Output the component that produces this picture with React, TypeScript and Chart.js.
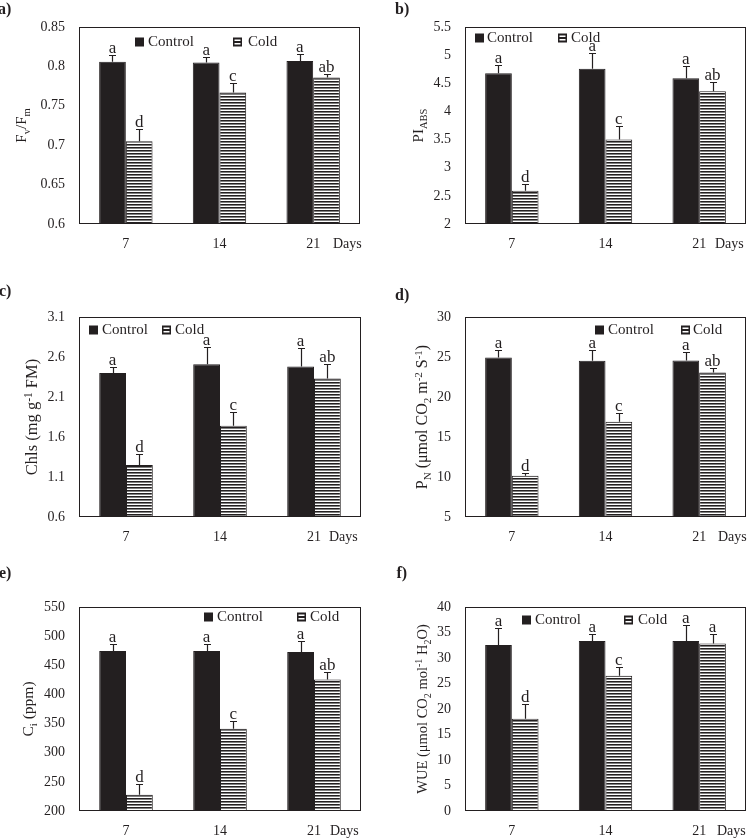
import React, { useEffect, useRef } from 'react';
import { Chart, registerables } from 'chart.js';

Chart.register(...registerables);

const FONT = "'Liberation Serif', 'Times New Roman', serif";
const INK = '#231f20';

const days = ['7', '14', '21'];
const seriesNames = ['Control', 'Cold'];

// a) Fv/Fm
const fvfmTicks = [0.6, 0.65, 0.7, 0.75, 0.8, 0.85];
const fvfmControl = [0.806, 0.805, 0.807];
const fvfmControlErr = [0.009, 0.007, 0.009];
const fvfmCold = [0.705, 0.767, 0.786];
const fvfmColdErr = [0.016, 0.012, 0.004];
const fvfmControlLetters = ['a', 'a', 'a'];
const fvfmColdLetters = ['d', 'c', 'ab'];

// b) PI_ABS
const piTicks = [2, 2.5, 3, 3.5, 4, 4.5, 5, 5.5];
const piControl = [4.68, 4.76, 4.59];
const piControlErr = [0.15, 0.27, 0.22];
const piCold = [2.59, 3.5, 4.36];
const piColdErr = [0.12, 0.24, 0.16];
const piControlLetters = ['a', 'a', 'a'];
const piColdLetters = ['d', 'c', 'ab'];

// c) Chls
const chlTicks = [0.6, 1.1, 1.6, 2.1, 2.6, 3.1];
const chlControl = [2.4, 2.51, 2.48];
const chlControlErr = [0.08, 0.21, 0.23];
const chlCold = [1.25, 1.74, 2.33];
const chlColdErr = [0.14, 0.17, 0.18];
const chlControlLetters = ['a', 'a', 'a'];
const chlColdLetters = ['d', 'c', 'ab'];

// d) P_N
const pnTicks = [5, 10, 15, 20, 25, 30];
const pnControl = [24.93, 24.52, 24.56];
const pnControlErr = [0.92, 1.4, 1.04];
const pnCold = [10.15, 16.92, 23.06];
const pnColdErr = [0.4, 1.08, 0.62];
const pnControlLetters = ['a', 'a', 'a'];
const pnColdLetters = ['d', 'c', 'ab'];

// e) Ci
const ciTicks = [200, 250, 300, 350, 400, 450, 500, 550];
const ciControl = [474.5, 474.5, 473];
const ciControlErr = [12, 12.5, 19];
const ciCold = [228, 341, 425.5];
const ciColdErr = [18.5, 13, 13.5];
const ciControlLetters = ['a', 'a', 'a'];
const ciColdLetters = ['d', 'c', 'ab'];

// f) WUE
const wueTicks = [0, 5, 10, 15, 20, 25, 30, 35, 40];
const wueControl = [32.56, 33.34, 33.34];
const wueControlErr = [3.3, 1.4, 3.1];
const wueCold = [18.08, 26.5, 32.82];
const wueColdErr = [2.9, 1.8, 1.9];
const wueControlLetters = ['a', 'a', 'a'];
const wueColdLetters = ['d', 'c', 'a'];

type Seg = { t: string; s?: 'sub' | 'sup' };

interface PanelCfg {
  tag: string;
  left: number; top: number; width: number; height: number;
  yWidth: number; padTop: number; padRight: number; padBottom: number; xHeight: number;
  ticks: number[];
  control: number[]; controlErr: number[]; cold: number[]; coldErr: number[];
  controlLetters: string[]; coldLetters: string[];
  title: Seg[]; titleX: number; titleSize: number;
  legend: number[]; // controlBoxX, controlTextX, coldBoxX, coldTextX, centerY
  daysX: number; tagX: number; tagY: number;
}

const panels: PanelCfg[] = [
  {
    tag: 'a)', left: 0, top: 0, width: 375, height: 280,
    yWidth: 79, padTop: 27, padRight: 15, padBottom: 26, xHeight: 30,
    ticks: fvfmTicks, control: fvfmControl, controlErr: fvfmControlErr, cold: fvfmCold, coldErr: fvfmColdErr,
    controlLetters: fvfmControlLetters, coldLetters: fvfmColdLetters,
    title: [{ t: 'F' }, { t: 'v', s: 'sub' }, { t: '/F' }, { t: 'm', s: 'sub' }], titleX: 21, titleSize: 15,
    legend: [135, 148, 233, 248, 42], daysX: 333, tagX: -2, tagY: 13.5,
  },
  {
    tag: 'b)', left: 375, top: 0, width: 374, height: 280,
    yWidth: 90, padTop: 27, padRight: 3, padBottom: 26, xHeight: 30,
    ticks: piTicks, control: piControl, controlErr: piControlErr, cold: piCold, coldErr: piColdErr,
    controlLetters: piControlLetters, coldLetters: piColdLetters,
    title: [{ t: 'PI' }, { t: 'ABS', s: 'sub' }], titleX: 43, titleSize: 15,
    legend: [100, 112, 183, 196, 38], daysX: 340, tagX: 20, tagY: 13.5,
  },
  {
    tag: 'c)', left: 0, top: 280, width: 375, height: 275,
    yWidth: 79, padTop: 37, padRight: 14, padBottom: 8, xHeight: 30,
    ticks: chlTicks, control: chlControl, controlErr: chlControlErr, cold: chlCold, coldErr: chlColdErr,
    controlLetters: chlControlLetters, coldLetters: chlColdLetters,
    title: [{ t: 'Chls (mg g' }, { t: '-1', s: 'sup' }, { t: ' FM)' }], titleX: 32, titleSize: 16.5,
    legend: [89, 102, 162, 175, 50], daysX: 329, tagX: -1, tagY: 15.5,
  },
  {
    tag: 'd)', left: 375, top: 280, width: 374, height: 275,
    yWidth: 90, padTop: 37, padRight: 3, padBottom: 8, xHeight: 30,
    ticks: pnTicks, control: pnControl, controlErr: pnControlErr, cold: pnCold, coldErr: pnColdErr,
    controlLetters: pnControlLetters, coldLetters: pnColdLetters,
    title: [
      { t: 'P' }, { t: 'N', s: 'sub' }, { t: ' (μmol CO' }, { t: '2', s: 'sub' }, { t: ' m' },
      { t: '-2', s: 'sup' }, { t: ' S' }, { t: '-1', s: 'sup' }, { t: ')' },
    ],
    titleX: 47, titleSize: 16,
    legend: [220, 233, 306, 318, 50], daysX: 343, tagX: 20, tagY: 20,
  },
  {
    tag: 'e)', left: 0, top: 555, width: 375, height: 285,
    yWidth: 79, padTop: 52, padRight: 14, padBottom: 0, xHeight: 29,
    ticks: ciTicks, control: ciControl, controlErr: ciControlErr, cold: ciCold, coldErr: ciColdErr,
    controlLetters: ciControlLetters, coldLetters: ciColdLetters,
    title: [{ t: 'C' }, { t: 'i', s: 'sub' }, { t: ' (ppm)' }], titleX: 28, titleSize: 15.5,
    legend: [204, 217, 297, 310, 62], daysX: 330, tagX: -1, tagY: 23,
  },
  {
    tag: 'f)', left: 375, top: 555, width: 374, height: 285,
    yWidth: 90, padTop: 52, padRight: 3, padBottom: 0, xHeight: 29,
    ticks: wueTicks, control: wueControl, controlErr: wueControlErr, cold: wueCold, coldErr: wueColdErr,
    controlLetters: wueControlLetters, coldLetters: wueColdLetters,
    title: [
      { t: 'WUE (μmol CO' }, { t: '2', s: 'sub' }, { t: ' mol' }, { t: '-1', s: 'sup' },
      { t: ' H' }, { t: '2', s: 'sub' }, { t: 'O)' },
    ],
    titleX: 47, titleSize: 14.5,
    legend: [147, 160, 249, 263, 65], daysX: 342, tagX: 21.5, tagY: 23,
  },
];

function makePattern(): CanvasPattern | string {
  const c = document.createElement('canvas');
  c.width = 4;
  c.height = 3;
  const g = c.getContext('2d');
  if (!g) return '#888';
  g.fillStyle = '#ffffff';
  g.fillRect(0, 0, 4, 3);
  g.fillStyle = INK;
  g.fillRect(0, 0, 4, 1);
  g.fillStyle = '#808080';
  g.fillRect(0, 1, 4, 1);
  return g.createPattern(c, 'repeat') || '#888';
}

function fmt(v: number): string {
  return String(parseFloat(Number(v).toFixed(3)));
}

function makeOverlay(cfg: PanelCfg) {
  return {
    id: 'overlay',
    afterDatasetsDraw(chart: any) {
      const ctx: CanvasRenderingContext2D = chart.ctx;
      const ys = chart.scales.y;
      const xs = chart.scales.x;
      const ca = chart.chartArea;
      ctx.save();
      const groups: [number[], number[], string[]][] = [
        [cfg.control, cfg.controlErr, cfg.controlLetters],
        [cfg.cold, cfg.coldErr, cfg.coldLetters],
      ];
      groups.forEach(([vals, errs, letters], di) => {
        const meta = chart.getDatasetMeta(di);
        meta.data.forEach((bar: any, i: number) => {
          const x = Math.round(bar.x) + 0.5;
          const yBar = ys.getPixelForValue(vals[i]);
          const yTop = Math.round(ys.getPixelForValue(vals[i] + errs[i])) + 0.5;
          ctx.strokeStyle = INK;
          ctx.lineWidth = 1.2;
          ctx.beginPath();
          ctx.moveTo(x, yBar);
          ctx.lineTo(x, yTop);
          ctx.moveTo(x - 3.5, yTop);
          ctx.lineTo(x + 3.5, yTop);
          ctx.stroke();
          ctx.fillStyle = INK;
          ctx.font = `17px ${FONT}`;
          ctx.textAlign = 'center';
          ctx.textBaseline = 'alphabetic';
          ctx.fillText(letters[i], bar.x, yTop - 2.5);
        });
      });

      // frame
      ctx.strokeStyle = INK;
      ctx.lineWidth = 1;
      ctx.strokeRect(
        Math.round(ca.left) + 0.5,
        Math.round(ca.top) + 0.5,
        Math.round(ca.right - ca.left) - 1,
        Math.round(ca.bottom - ca.top) - 1,
      );

      // legend
      const [cbx, ctxX, kbx, ktx, ly] = cfg.legend;
      const bs = 9;
      ctx.fillStyle = INK;
      ctx.fillRect(cbx, ly - bs / 2, bs, bs);
      ctx.fillRect(kbx, ly - bs / 2, bs, bs);
      ctx.fillStyle = '#ffffff';
      ctx.fillRect(kbx + 1.5, ly - 2.5, bs - 3, 1.5);
      ctx.fillRect(kbx + 1.5, ly + 1, bs - 3, 1.5);
      ctx.fillStyle = INK;
      ctx.font = `15px ${FONT}`;
      ctx.textAlign = 'left';
      ctx.textBaseline = 'middle';
      ctx.fillText(seriesNames[0], ctxX, ly + 0.5);
      ctx.fillText(seriesNames[1], ktx, ly + 0.5);

      // Days
      ctx.font = `14px ${FONT}`;
      ctx.textBaseline = 'middle';
      ctx.fillText('Days', cfg.daysX, xs.top + 12 + 8.4);

      // panel tag
      ctx.font = `bold 16px ${FONT}`;
      ctx.textBaseline = 'alphabetic';
      ctx.fillText(cfg.tag, cfg.tagX, cfg.tagY);

      // y-axis title with sub/superscripts
      const mainSize = cfg.titleSize;
      const smallSize = Math.round(cfg.titleSize * 0.7 * 2) / 2;
      let total = 0;
      const widths = cfg.title.map((s) => {
        ctx.font = `${s.s ? smallSize : mainSize}px ${FONT}`;
        const w = ctx.measureText(s.t).width;
        total += w;
        return w;
      });
      ctx.translate(cfg.titleX, (ca.top + ca.bottom) / 2);
      ctx.rotate(-Math.PI / 2);
      let px = -total / 2;
      const base = 5;
      cfg.title.forEach((s, i) => {
        ctx.font = `${s.s ? smallSize : mainSize}px ${FONT}`;
        const dy = s.s === 'sub' ? 3.5 : s.s === 'sup' ? -5.5 : 0;
        ctx.fillText(s.t, px, base + dy);
        px += widths[i];
      });
      ctx.restore();
    },
  };
}

function Panel({ cfg }: { cfg: PanelCfg }) {
  const ref = useRef<HTMLCanvasElement | null>(null);
  useEffect(() => {
    const canvas = ref.current;
    if (!canvas) return;
    const pattern = makePattern();
    const ticks = cfg.ticks;
    const chart = new Chart(canvas, {
      type: 'bar',
      data: {
        labels: days,
        datasets: [
          {
            label: seriesNames[0],
            data: cfg.control,
            backgroundColor: INK,
            borderColor: INK,
            borderWidth: 1,
            categoryPercentage: 0.57,
            barPercentage: 1.0,
          },
          {
            label: seriesNames[1],
            data: cfg.cold,
            backgroundColor: pattern as any,
            borderColor: INK,
            borderWidth: 1,
            categoryPercentage: 0.57,
            barPercentage: 1.0,
          },
        ],
      },
      options: {
        responsive: false,
        maintainAspectRatio: false,
        animation: false,
        layout: {
          padding: { left: 0, top: cfg.padTop, right: cfg.padRight, bottom: cfg.padBottom },
        },
        plugins: {
          legend: { display: false },
          tooltip: { enabled: false },
          title: { display: false },
        },
        scales: {
          x: {
            type: 'category',
            grid: { display: false, drawTicks: false },
            border: { display: false },
            ticks: { font: { family: FONT, size: 14 }, color: INK, padding: 12 },
            afterFit: (s: any) => { s.height = cfg.xHeight; },
          },
          y: {
            type: 'linear',
            min: ticks[0],
            max: ticks[ticks.length - 1],
            grid: { display: false, drawTicks: false },
            border: { display: false },
            ticks: {
              font: { family: FONT, size: 14 },
              color: INK,
              padding: 14,
              callback: (v: any) => fmt(Number(v)),
            },
            afterBuildTicks: (s: any) => { s.ticks = ticks.map((v) => ({ value: v })); },
            afterFit: (s: any) => { s.width = cfg.yWidth; },
          },
        },
      },
      plugins: [makeOverlay(cfg)],
    } as any);
    return () => chart.destroy();
  }, [cfg]);
  return (
    <canvas
      ref={ref}
      width={cfg.width}
      height={cfg.height}
      style={{ position: 'absolute', left: cfg.left, top: cfg.top, width: cfg.width, height: cfg.height }}
    />
  );
}

export default function App() {
  return (
    <div style={{ position: 'absolute', left: 0, top: 0, width: 749, height: 840, background: '#ffffff', overflow: 'hidden' }}>
      {panels.map((p) => (
        <Panel key={p.tag} cfg={p} />
      ))}
    </div>
  );
}
